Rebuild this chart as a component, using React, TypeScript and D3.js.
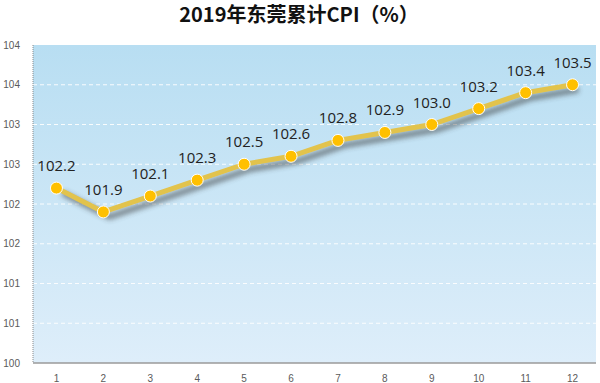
import React from "react";
import * as d3 from "d3";

const months = ["1", "2", "3", "4", "5", "6", "7", "8", "9", "10", "11", "12"];
const cpi = [102.2, 101.9, 102.1, 102.3, 102.5, 102.6, 102.8, 102.9, 103.0, 103.2, 103.4, 103.5];
const yTicks = [100, 100.5, 101, 101.5, 102, 102.5, 103, 103.5, 104];
const title = "2019年东莞累计CPI（%）";

export default function App() {
  const W = 600, H = 383;
  const m = { left: 33, right: 4, top: 45, bottom: 20 };
  const x = d3.scaleBand().domain(months).range([m.left, W - m.right]);
  const y = d3.scaleLinear().domain([100, 104]).range([H - m.bottom, m.top]);
  const cx = (i: number) => (x(months[i]) as number) + x.bandwidth() / 2;
  const line = d3.line<number>().x((_, i) => cx(i)).y((d) => y(d));
  const path = line(cpi) || "";
  const fmt = (v: number) => v.toFixed(0);
  return (
    <svg width={W} height={H} style={{ position: "absolute", left: 0, top: 0 }}>
      <defs>
        <linearGradient id="bg" x1="0" y1="0" x2="0" y2="1">
          <stop offset="0" stopColor="#b8def2" />
          <stop offset="1" stopColor="#deeefa" />
        </linearGradient>
        <filter id="sh" x="-10%" y="-30%" width="120%" height="160%">
          <feGaussianBlur stdDeviation="2.5" />
        </filter>
      </defs>
      <rect x={0} y={0} width={W} height={H} fill="#fff" />
      <text x={299} y={22} textAnchor="middle" fontFamily="'Noto Sans CJK SC', sans-serif" fontWeight="bold" fontSize={20} fill="#111">{title}</text>
      <rect x={m.left} y={m.top} width={W - m.left - m.right} height={H - m.top - m.bottom} fill="url(#bg)" />
      {yTicks.slice(1, -1).map((t) => (
        <line key={t} x1={m.left} x2={W - m.right} y1={y(t)} y2={y(t)} stroke="#ffffff" strokeWidth={1} strokeDasharray="4,3" opacity={0.9} />
      ))}
      <line x1={m.left} x2={m.left} y1={m.top} y2={H - m.bottom} stroke="#8a8a8a" strokeWidth={1} strokeDasharray="1,1" />
      <line x1={m.left} x2={W - m.right} y1={H - m.bottom} y2={H - m.bottom} stroke="#9a9a9a" strokeWidth={1.5} />
      {yTicks.map((t) => (
        <text key={t} x={20} y={y(t) + 3.5} textAnchor="end" fontFamily="'Liberation Sans', Arial, sans-serif" fontSize={10} fill="#5a5a5a">{fmt(t)}</text>
      ))}
      {months.map((mo, i) => (
        <text key={mo} x={cx(i)} y={H - 1} textAnchor="middle" fontFamily="'Liberation Sans', Arial, sans-serif" fontSize={10} fill="#5a5a5a">{mo}</text>
      ))}
      <path d={path} transform="translate(6,5)" fill="none" stroke="#333" strokeWidth={6} opacity={0.5} filter="url(#sh)" strokeLinejoin="round" />
      <path d={path} fill="none" stroke="#e2c34c" strokeWidth={5} strokeLinejoin="round" strokeLinecap="round" />
      {cpi.map((v, i) => (
        <circle key={i} cx={cx(i)} cy={y(v)} r={6} fill="#ffc000" stroke="#fff" strokeWidth={1} />
      ))}
      {cpi.map((v, i) => (
        <text key={"l" + i} x={cx(i)} y={y(v) - 17} textAnchor="middle" fontFamily="'Open Sans', sans-serif" fontSize={15} fill="#222">{v.toFixed(1)}</text>
      ))}
    </svg>
  );
}
